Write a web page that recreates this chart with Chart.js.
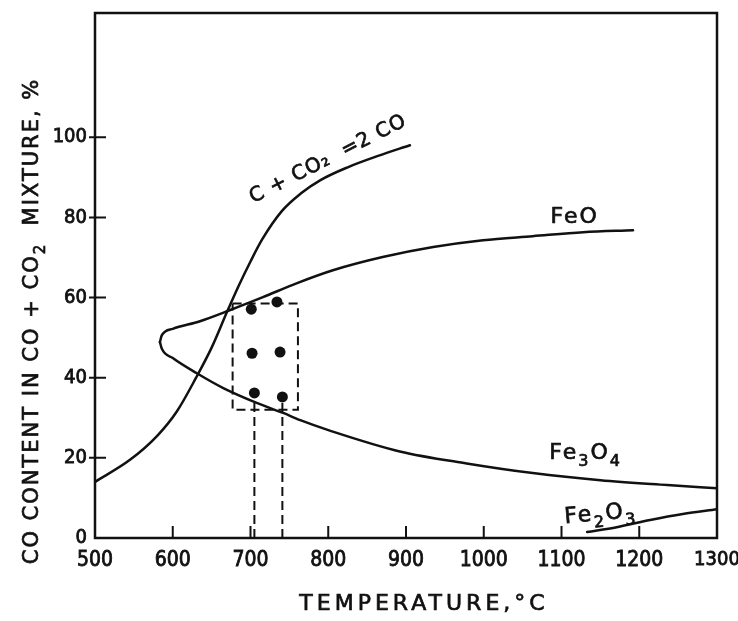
<!DOCTYPE html>
<html>
<head>
<meta charset="utf-8">
<script src="https://cdn.jsdelivr.net/npm/chart.js@4.4.1/dist/chart.umd.min.js"></script>
<style>
  html, body { margin: 0; padding: 0; background: #fff; }
  canvas { display: block; }
</style>
</head>
<body>
<canvas id="chart" width="738" height="621"></canvas>
<script>
const xTicks = [500, 600, 700, 800, 900, 1000, 1100, 1200, 1300];
const yTicks = [0, 20, 40, 60, 80, 100];

// C + CO2 = 2CO equilibrium
const boudouardT  = [500, 545, 580, 605, 630, 650, 670, 685, 700, 715, 740, 765, 790, 825, 865, 905];
const boudouardCO = [14.0, 19.5, 25.5, 31.5, 40.0, 47.5, 56.5, 63.0, 69.0, 74.5, 81.5, 86.0, 89.3, 92.5, 95.4, 98.0];

// FeO / Fe3O4 boundary, both branches start at the nose
const feoT  = [583.5, 586, 600, 635, 674, 716, 760, 806, 870, 935, 999, 1063, 1128, 1192];
const feoCO = [48.9, 50.6, 52.2, 54.1, 56.9, 60.1, 63.6, 66.8, 70.1, 72.6, 74.3, 75.3, 76.3, 76.8];
const fe3o4T  = [583.5, 586, 600, 631, 665, 708, 742, 764, 802, 892, 978, 1063, 1150, 1236, 1300];
const fe3o4CO = [48.9, 47.2, 44.9, 41.1, 37.4, 33.7, 31.2, 29.4, 26.8, 21.6, 18.6, 16.2, 14.4, 13.2, 12.4];

// Fe2O3 / Fe3O4
const fe2o3T  = [1133, 1171, 1214, 1256, 1300];
const fe2o3CO = [1.5, 2.7, 4.5, 6.0, 7.2];

// experimental points
const expT  = [701, 734, 702, 738, 705, 741];
const expCO = [57.1, 58.9, 46.1, 46.4, 36.2, 35.2];

// dashed box and drop lines
const boxT  = [677, 761, 761, 677, 677];
const boxCO = [58.5, 58.5, 32, 32, 58.5];
const drop1T = [705, 705], drop1CO = [0, 36.2];
const drop2T = [741, 741], drop2CO = [0, 35.2];

const ink = '#111';
const fam = "'DejaVu Sans', sans-serif";
const famC = "'DejaVu Sans Condensed', 'DejaVu Sans', sans-serif";

const pts = (xs, ys) => xs.map((v, i) => ({ x: v, y: ys[i] }));

const curve = (data) => ({
  data, showLine: true, borderColor: ink, borderWidth: 2.5,
  pointRadius: 0, cubicInterpolationMode: 'monotone', fill: false,
  borderCapStyle: 'round'
});
const dashed = (data) => ({
  data, showLine: true, borderColor: ink, borderWidth: 2,
  borderDash: [9, 5], pointRadius: 0, tension: 0, fill: false
});

// text helper: parts = [[text, isSub], ...]
function chem(ctx, parts, x, y, angle, size, spacing, baseline) {
  ctx.save();
  ctx.translate(x, y);
  ctx.rotate(angle * Math.PI / 180);
  ctx.letterSpacing = spacing + 'px';
  ctx.textBaseline = baseline || 'alphabetic';
  ctx.textAlign = 'left';
  ctx.lineWidth = 0.7;
  let w = 0;
  parts.forEach(([t, sub]) => {
    ctx.font = (sub ? Math.round(size * 0.72) : size) + 'px ' + fam;
    w += ctx.measureText(t).width;
  });
  let cx = -w / 2;
  parts.forEach(([t, sub]) => {
    ctx.font = (sub ? Math.round(size * 0.72) : size) + 'px ' + fam;
    const dy = sub ? size * 0.32 : 0;
    ctx.fillText(t, cx, dy);
    ctx.strokeText(t, cx, dy);
    cx += ctx.measureText(t).width;
  });
  ctx.restore();
}

const decor = {
  id: 'decor',
  afterDraw(chart) {
    const { ctx, chartArea: a, scales: { x, y } } = chart;
    ctx.save();
    ctx.strokeStyle = ink;
    ctx.fillStyle = ink;
    ctx.lineWidth = 2.5;
    ctx.strokeRect(a.left, a.top, a.right - a.left, a.bottom - a.top);

    // ticks pointing into the plot
    ctx.lineWidth = 2;
    ctx.beginPath();
    xTicks.slice(1, -1).forEach(v => {
      const px = x.getPixelForValue(v);
      ctx.moveTo(px, a.bottom);
      ctx.lineTo(px, a.bottom - 12);
    });
    yTicks.slice(1).forEach(v => {
      const py = y.getPixelForValue(v);
      ctx.moveTo(a.left - 6, py);
      ctx.lineTo(a.left + 11, py);
    });
    ctx.stroke();

    // curve labels
    chem(ctx, [['C + CO', false], ['₂', false], ['  =2 CO', false]],
      x.getPixelForValue(800), y.getPixelForValue(94.5), -27, 20, 1, 'middle');
    chem(ctx, [['FeO', false]], x.getPixelForValue(1117), y.getPixelForValue(78.6), 0, 22, 2);
    chem(ctx, [['Fe', false], ['3', true], ['O', false], ['4', true]],
      x.getPixelForValue(1131), y.getPixelForValue(19.7), 0, 22, 2);
    chem(ctx, [['Fe', false], ['2', true], ['O', false], ['3', true]],
      x.getPixelForValue(1151), y.getPixelForValue(4.5), -5, 22, 2);

    // axis titles
    chem(ctx, [['TEMPERATURE', false], [',', false], ['°C', false]], 424, 610, 0, 22, 4);
    chem(ctx, [['CO CONTENT IN CO + CO', false], ['2', true], ['  MIXTURE, %', false]], 38, 321, -90, 21, 2);
    ctx.restore();
  }
};

new Chart(document.getElementById('chart'), {
  type: 'scatter',
  data: {
    datasets: [
      curve(pts(boudouardT, boudouardCO)),
      curve(pts(feoT, feoCO)),
      curve(pts(fe3o4T, fe3o4CO)),
      curve(pts(fe2o3T, fe2o3CO)),
      dashed(pts(boxT, boxCO)),
      dashed(pts(drop1T, drop1CO)),
      dashed(pts(drop2T, drop2CO)),
      {
        data: pts(expT, expCO), showLine: false,
        pointRadius: 5.5, pointBackgroundColor: ink, pointBorderWidth: 0
      }
    ]
  },
  options: {
    responsive: false,
    animation: false,
    devicePixelRatio: 1,
    layout: { padding: { top: 13, right: 21, left: 0, bottom: 0 } },
    plugins: { legend: { display: false }, tooltip: { enabled: false } },
    scales: {
      x: {
        type: 'linear', min: 500, max: 1300,
        grid: { display: false, drawTicks: false },
        border: { display: false },
        afterBuildTicks: s => { s.ticks = xTicks.map(v => ({ value: v })); },
        ticks: {
          color: ink, padding: 10,
          // last label sits at the window edge, keep it inside
          font: c => ({ family: famC, size: c.index === xTicks.length - 1 ? 20 : 21 }),
          textStrokeColor: ink, textStrokeWidth: 0.8,
          callback: v => String(v)
        },
        afterFit: s => { s.height = 83; s.paddingLeft = 0; s.paddingRight = 0; }
      },
      y: {
        type: 'linear', min: 0, max: 131,
        grid: { display: false, drawTicks: false },
        border: { display: false },
        afterBuildTicks: s => { s.ticks = yTicks.map(v => ({ value: v })); },
        ticks: {
          color: ink, padding: 8, font: { family: famC, size: 20 },
          textStrokeColor: ink, textStrokeWidth: 0.8,
          callback: v => String(v)
        },
        afterFit: s => { s.width = 95; s.paddingTop = 0; s.paddingBottom = 0; }
      }
    }
  },
  plugins: [decor]
});
</script>
</body>
</html>
